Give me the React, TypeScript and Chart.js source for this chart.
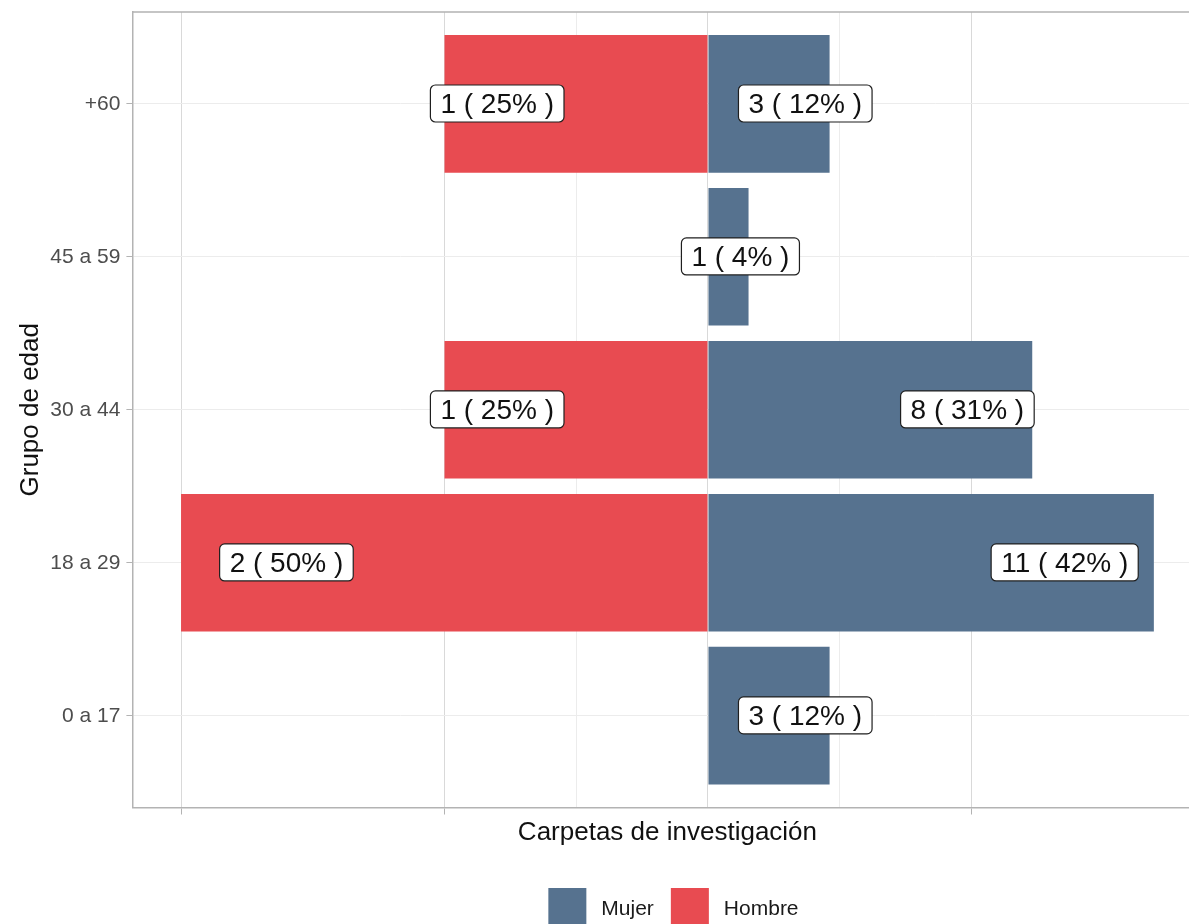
import { useEffect, useRef } from "react";
import { Chart, registerables } from "chart.js";

Chart.register(...registerables);

const FONT = "'Liberation Sans', Arial, Helvetica, sans-serif";

// ---- data ----
const categories = ["0 a 17", "18 a 29", "30 a 44", "45 a 59", "+60"];
const mujerCounts = [3, 11, 8, 1, 3];
const mujerPct = [11.54, 42.31, 30.77, 3.85, 11.54];
const hombreCounts = [0, 2, 1, 0, 1];
const hombrePct = [0, 50, 25, 0, 25];
const seriesNames = ["Mujer", "Hombre"];
const seriesColors = ["#56728f", "#e84b51"];
const xMajorBreaks = [-50, -25, 0, 25];
const xMinorBreaks = [-12.5, 12.5];
const xTitle = "Carpetas de investigación";
const yTitle = "Grupo de edad";

const CANVAS_W = 1215;
const CANVAS_H = 924;

const labelPlugin = {
  id: "boxLabels",
  afterDatasetsDraw(chart: any) {
    const { ctx } = chart;
    const xs = chart.scales.x;
    const ys = chart.scales.y;
    ctx.save();
    ctx.font = `28px ${FONT}`;
    ctx.textAlign = "center";
    ctx.textBaseline = "middle";
    chart.data.datasets.forEach((ds: any) => {
      ds.data.forEach((pt: any, i: number) => {
        if (pt.x === null || pt.x === undefined) return;
        const pct = Math.abs(pt.x);
        const text = `${ds.counts[i]} ( ${Math.round(pct)}% )`;
        const cx = xs.getPixelForValue(pt.x * 0.8);
        const cy = ys.getPixelForValue(pt.y);
        const tw = ctx.measureText(text).width;
        const w = tw + 20;
        const h = 37;
        const bx = cx - w / 2;
        const by = cy - h / 2 - 0.3;
        ctx.beginPath();
        ctx.roundRect(bx, by, w, h, 5);
        ctx.fillStyle = "#ffffff";
        ctx.fill();
        ctx.lineWidth = 1.2;
        ctx.strokeStyle = "#1f1f1f";
        ctx.stroke();
        ctx.fillStyle = "#111111";
        ctx.fillText(text, cx, cy + 1.5);
      });
    });
    ctx.restore();
  },
};

const framePlugin = {
  id: "panelFrame",
  beforeDatasetsDraw(chart: any) {
    const { ctx, chartArea } = chart;
    ctx.save();
    ctx.strokeStyle = "#b3b3b3";
    ctx.lineWidth = 1.5;
    ctx.beginPath();
    ctx.moveTo(chartArea.left, chartArea.top);
    ctx.lineTo(chartArea.right, chartArea.top);
    ctx.lineTo(chartArea.right, chartArea.bottom);
    ctx.stroke();
    ctx.restore();
  },
};

const legendPlugin = {
  id: "bottomLegend",
  afterDraw(chart: any) {
    const { ctx, chartArea } = chart;
    const box = 38;
    const gapText = 15;
    const gapItem = 17;
    ctx.save();
    ctx.font = `21px ${FONT}`;
    const items = chart.data.datasets.map((ds: any) => ({
      label: ds.label,
      color: ds.backgroundColor,
      w: ctx.measureText(ds.label).width,
    }));
    const total =
      items.reduce((s: number, it: any) => s + box + gapText + it.w, 0) +
      gapItem * (items.length - 1);
    let x = (chartArea.left + chartArea.right) / 2 + 6 - total / 2;
    const top = chart.height - 36;
    ctx.textAlign = "left";
    ctx.textBaseline = "alphabetic";
    items.forEach((it: any) => {
      ctx.fillStyle = it.color;
      ctx.fillRect(x, top, box, box);
      x += box + gapText;
      ctx.fillStyle = "#1a1a1a";
      ctx.fillText(it.label, x, top + 27);
      x += it.w + gapItem;
    });
    ctx.restore();
  },
};

export default function App() {
  const canvasRef = useRef<HTMLCanvasElement | null>(null);

  useEffect(() => {
    const canvas = canvasRef.current;
    if (!canvas) return;

    const dataMin = -Math.max(...hombrePct);
    const dataMax = Math.max(...mujerPct);
    const expand = 0.05 * (dataMax - dataMin);
    const xMin = dataMin - expand;
    const xMax = dataMax + expand;
    const allBreaks = [...xMajorBreaks, ...xMinorBreaks].sort((a, b) => a - b);

    const chart = new Chart(canvas, {
      type: "bar",
      data: {
        datasets: [
          {
            label: seriesNames[0],
            data: mujerPct.map((v, i) => ({ x: v > 0 ? v : null, y: i })),
            counts: mujerCounts,
            backgroundColor: seriesColors[0],
            borderWidth: 0,
            grouped: false,
            barPercentage: 0.9,
            categoryPercentage: 1,
          } as any,
          {
            label: seriesNames[1],
            data: hombrePct.map((v, i) => ({ x: v > 0 ? -v : null, y: i })),
            counts: hombreCounts,
            backgroundColor: seriesColors[1],
            borderWidth: 0,
            grouped: false,
            barPercentage: 0.9,
            categoryPercentage: 1,
          } as any,
        ],
      },
      options: {
        animation: false,
        responsive: false,
        maintainAspectRatio: false,
        indexAxis: "y",
        layout: { padding: { left: 0, right: 12.5, top: 12, bottom: 0 } },
        plugins: {
          legend: { display: false },
          tooltip: { enabled: false },
        },
        scales: {
          x: {
            type: "linear",
            min: xMin,
            max: xMax,
            offset: false,
            afterBuildTicks: (axis: any) => {
              axis.ticks = allBreaks.map((v) => ({ value: v }));
            },
            afterFit: (axis: any) => {
              axis.height = 116.5;
              axis.paddingLeft = 0;
              axis.paddingRight = 0;
            },
            ticks: { display: false },
            grid: {
              offset: false,
              color: (c: any) =>
                xMajorBreaks.includes(c.tick?.value) ? "#d9d9d9" : "#ececec",
              tickColor: (c: any) =>
                xMajorBreaks.includes(c.tick?.value) && c.tick?.value !== 0
                  ? "#b3b3b3"
                  : "rgba(0,0,0,0)",
              tickLength: 7,
              lineWidth: 1,
            },
            border: { color: "#b3b3b3", width: 1.5 },
            title: {
              display: true,
              text: xTitle,
              color: "#111111",
              font: { family: FONT, size: 26 },
              padding: { top: 0, bottom: 76 },
            },
          },
          y: {
            type: "linear",
            min: -0.6,
            max: categories.length - 1 + 0.6,
            offset: false,
            afterBuildTicks: (axis: any) => {
              axis.ticks = categories.map((_, i) => ({ value: i }));
            },
            afterFit: (axis: any) => {
              axis.width = 132.4;
              axis.paddingTop = 0;
              axis.paddingBottom = 0;
            },
            ticks: {
              callback: (v: any) => categories[v as number] ?? "",
              color: "#4d4d4d",
              font: { family: FONT, size: 21 },
              padding: 6,
            },
            grid: {
              offset: false,
              color: "#ececec",
              tickColor: "#b3b3b3",
              tickLength: 6,
              lineWidth: 1,
            },
            border: { color: "#b3b3b3", width: 1.5 },
            title: {
              display: true,
              text: yTitle,
              color: "#111111",
              font: { family: FONT, size: 26 },
              padding: { top: 15, bottom: 0 },
            },
          },
        },
      } as any,
      plugins: [framePlugin, labelPlugin, legendPlugin],
    });

    return () => {
      chart.destroy();
    };
  }, []);

  return (
    <div
      style={{
        position: "fixed",
        left: 0,
        top: 0,
        width: 1189,
        height: 924,
        overflow: "hidden",
        background: "#ffffff",
      }}
    >
      <canvas
        ref={canvasRef}
        width={CANVAS_W}
        height={CANVAS_H}
        style={{ display: "block", width: CANVAS_W, height: CANVAS_H }}
      />
    </div>
  );
}
